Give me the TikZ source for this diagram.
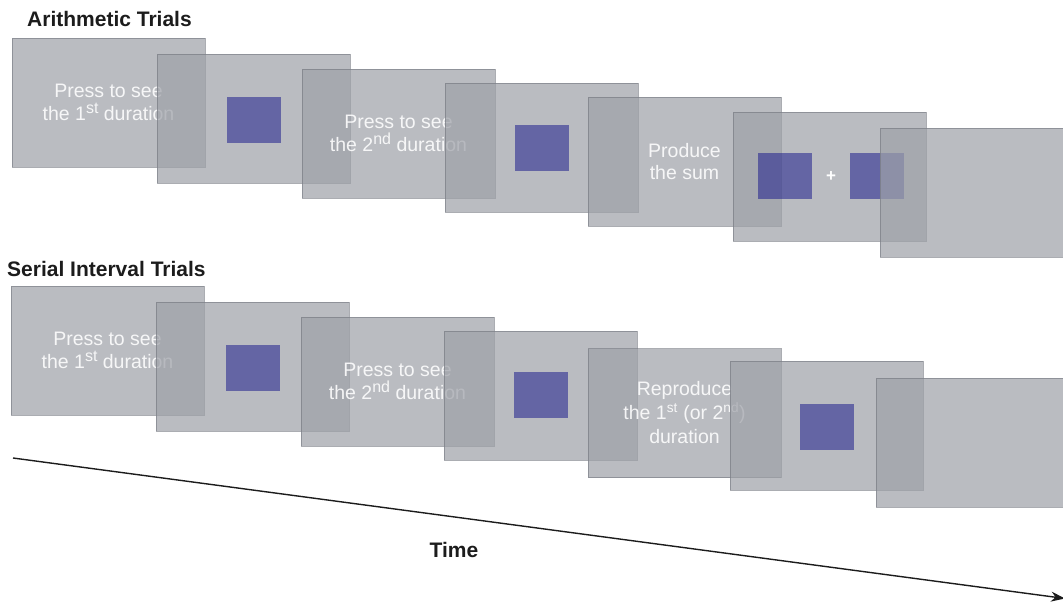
\documentclass[tikz,border=0pt]{standalone}
\usepackage{fontspec}
\setmainfont{Liberation Sans}
\usetikzlibrary{arrows.meta}

\definecolor{panelfill}{RGB}{158,161,168}
\definecolor{paneledge}{RGB}{115,118,126}
\definecolor{cueblue}{RGB}{30,30,140}
\definecolor{inkdark}{RGB}{28,28,28}

% raised ordinal suffix, set nearly at full size
\newcommand\ordsup[1]{\raisebox{0.36em}{\fontsize{16}{16}\selectfont #1}}

\tikzset{
  panel/.style={rectangle, minimum width=193pt, minimum height=129pt, inner sep=0pt,
    fill=panelfill, fill opacity=0.71, draw=paneledge, draw opacity=0.6, line width=0.9pt,
    text=white, text opacity=0.88, align=center,
    font=\fontsize{19.5}{22.5}\selectfont},
  cue/.style={rectangle, minimum width=54pt, minimum height=46pt, inner sep=0pt,
    fill=cueblue, fill opacity=0.55, draw=none},
  plus/.style={text=white, font=\bfseries\fontsize{17}{17}\selectfont, inner sep=0pt},
  heading/.style={text=inkdark, font=\bfseries\fontsize{21}{21}\selectfont, inner sep=0pt},
  timeline/.style={draw=inkdark, line width=1.4pt, -{Stealth[length=14pt, width=10pt]}}
}

\begin{document}
\begin{tikzpicture}[x=1pt, y=-1pt]
\useasboundingbox (0,0) rectangle (1063,605);
\clip (0,0) rectangle (1063,605);

% ---- arithmetic trials ----
\node[heading, anchor=base west] (ahead) at (27,26.7) {Arithmetic Trials};

\node[panel] (a1) at (108.5,102.5) {Press to see\\the 1\ordsup{st} duration};
\node[panel] (a2) at (253.5,118.5) {};
\node[cue] (a2q) at (254,120) {};
\node[panel] (a3) at (398.5,133.5) {Press to see\\the 2\ordsup{nd} duration};
\node[panel] (a4) at (541.5,147.5) {};
\node[cue] (a4q) at (541.5,148) {};
\node[panel] (a5) at (684.5,161.5) {Produce\\the sum};
\node[panel] (a6) at (829.5,176.5) {};
\node[cue] (a6l) at (785,175.5) {};
\node[plus] (a6p) at (831,177) {+};
\node[cue] (a6r) at (877,175.5) {};
\node[panel] (a7) at (976.5,192.5) {};

% ---- serial interval trials ----
\node[heading, anchor=base west] (shead) at (7,276) {Serial Interval Trials};

\node[panel] (s1) at (107.5,350.5) {Press to see\\the 1\ordsup{st} duration};
\node[panel] (s2) at (252.5,366.5) {};
\node[cue] (s2q) at (252.5,367.5) {};
\node[panel] (s3) at (397.5,381.5) {Press to see\\the 2\ordsup{nd} duration};
\node[panel] (s4) at (540.5,395.5) {};
\node[cue] (s4q) at (540.5,395) {};
\node[panel, font=\fontsize{19.5}{24}\selectfont] (s5) at (684.5,413) {Reproduce\\the 1\textsuperscript{st} (or 2\textsuperscript{nd})\\duration};
\node[panel] (s6) at (826.5,425.5) {};
\node[cue] (s6q) at (827,426.5) {};
\node[panel] (s7) at (972.5,442.5) {};

% ---- time axis ----
\coordinate (t0) at (13,458);
\coordinate (t1) at (1065,598.5);
\draw[timeline] (t0) -- (t1);
\node[heading, anchor=base] (tlabel) at (454,557) {Time};
\end{tikzpicture}
\end{document}
